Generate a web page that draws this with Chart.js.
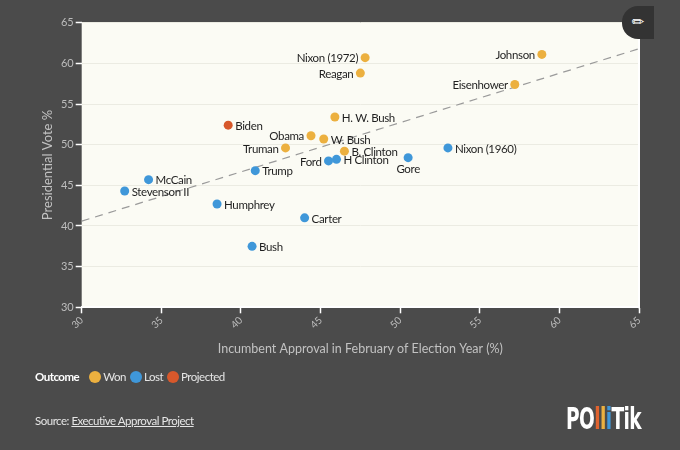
<!DOCTYPE html>
<html>
<head>
<meta charset="utf-8">
<script src="https://cdn.jsdelivr.net/npm/chart.js@4.4.1/dist/chart.umd.min.js"></script>
<style>
  body { margin:0; background:#4b4b4b; font-family: Lato, "Open Sans", sans-serif; }
  #wrap { position:relative; width:680px; height:450px; overflow:hidden; }
  #chart { position:absolute; left:0; top:0; }
  #edit { position:absolute; left:622px; top:6px; width:32px; height:33px; background:#333;
          border-radius:16px 0 0 16px; color:#fff; font:15px "DejaVu Sans"; line-height:33px; text-align:center; }
  #legend { position:absolute; left:35px; top:370px; color:#e6e6e6; font-size:11.5px; display:flex; align-items:center; letter-spacing:-0.5px; }
  #legend b { color:#fff; margin-right:10px; font-size:11.5px; }
  #legend .dot { width:12px; height:12px; border-radius:50%; display:inline-block; margin:0 2px 0 0; }
  #legend .item { display:flex; align-items:center; margin-right:4px; }
  #source { position:absolute; left:35px; top:414px; color:#e6e6e6; font-size:11.5px; letter-spacing:-0.5px; }
  #source a { color:#e6e6e6; }
  #logo { position:absolute; left:566px; top:401px; color:#fff; font:bold 30px "DejaVu Sans", sans-serif;
          letter-spacing:-1px; transform:scaleX(0.62); transform-origin:left top; white-space:nowrap; }
</style>
</head>
<body>
<div id="wrap">
  <canvas id="chart" width="680" height="450"></canvas>
  <div id="edit">✏</div>
  <div id="legend">
    <b>Outcome</b>
    <span class="item"><span class="dot" style="background:#ecb03f"></span>Won</span>
    <span class="item"><span class="dot" style="background:#3f97d9"></span>Lost</span>
    <span class="item"><span class="dot" style="background:#d7582b"></span>Projected</span>
  </div>
  <div id="source">Source: <a href="#">Executive Approval Project</a></div>
  <div id="logo">PO<span style="color:#e0632f">l</span><span style="color:#ecb03f">l</span><span style="color:#3f97d9">i</span>Tik</div>
</div>
<script>
// Kandydaci i wyniki
const candidates = ['Truman','Eisenhower','Stevenson II','Nixon (1960)','Johnson','Humphrey','Nixon (1972)','Ford','Carter','Reagan','H. W. Bush','Bush','B. Clinton','Gore','W. Bush','McCain','Obama','H Clinton','Trump','Biden'];
const approval   = [42.8, 57.2, 32.7, 53.0, 58.9, 38.5, 47.8, 45.5, 44.0, 47.5, 45.9, 40.7, 46.5, 50.5, 45.2, 34.2, 44.4, 46.0, 40.9, 39.2];
const vote       = [49.6, 57.4, 44.3, 49.6, 61.1, 42.7, 60.7, 48.0, 41.0, 58.8, 53.4, 37.5, 49.2, 48.4, 50.7, 45.7, 51.1, 48.2, 46.8, 52.4];
const outcome    = ['Won','Won','Lost','Lost','Won','Lost','Won','Lost','Lost','Won','Won','Lost','Won','Lost','Won','Lost','Won','Lost','Lost','Projected'];

// Linia trendu
const trendX = [30, 65];
const trendY = [40.6, 61.8];

const xTicks = [30, 35, 40, 45, 50, 55, 60, 65];

const colors = { Won:'#ecb03f', Lost:'#3f97d9', Projected:'#d7582b' };
// strona etykiety przy punkcie
const labelSide = { 'Nixon (1972)':'left', 'Reagan':'left', 'Johnson':'left', 'Eisenhower':'left',
                    'Obama':'left', 'Truman':'left', 'Ford':'left', 'Gore':'below' };

function pointsFor(kind){
  const pts = [];
  candidates.forEach((n,i)=>{ if(outcome[i]===kind) pts.push({x:approval[i], y:vote[i]}); });
  return pts;
}

const bgPlugin = {
  id:'bg',
  beforeDraw(chart){
    const {ctx, chartArea:a} = chart;
    ctx.save();
    ctx.fillStyle = '#4b4b4b';
    ctx.fillRect(0,0,chart.width,chart.height);
    ctx.fillStyle = '#fbfbf4';
    ctx.fillRect(a.left, a.top, a.right-a.left, a.bottom-a.top);
    ctx.restore();
  },
  afterDraw(chart){
    const {ctx, chartArea:a} = chart;
    ctx.save();
    ctx.strokeStyle = '#ffffff';
    ctx.lineWidth = 2;
    ctx.beginPath();
    ctx.moveTo(a.right, a.top);
    ctx.lineTo(a.right, a.bottom+1);
    ctx.stroke();
    ctx.restore();
  }
};

const labelPlugin = {
  id:'pointLabels',
  afterDatasetsDraw(chart){
    const ctx = chart.ctx, xs = chart.scales.x, ys = chart.scales.y;
    ctx.save();
    ctx.font = '11.5px Lato';
    ctx.letterSpacing = '-0.35px';
    ctx.fillStyle = '#1f1f1f';
    ctx.textBaseline = 'middle';
    candidates.forEach((n,i)=>{
      const px = xs.getPixelForValue(approval[i]);
      const py = ys.getPixelForValue(vote[i]);
      const side = labelSide[n] || 'right';
      if(side === 'left'){ ctx.textAlign='right'; ctx.fillText(n, px-7, py+1); }
      else if(side === 'below'){ ctx.textAlign='center'; ctx.fillText(n, px, py+12); }
      else { ctx.textAlign='left'; ctx.fillText(n, px+7, py+1); }
    });
    ctx.restore();
  }
};

new Chart(document.getElementById('chart').getContext('2d'), {
  type:'scatter',
  data:{
    datasets:[
      { label:'Won', data:pointsFor('Won'), backgroundColor:colors.Won, pointRadius:4.5, pointBorderWidth:0, order:0 },
      { label:'Lost', data:pointsFor('Lost'), backgroundColor:colors.Lost, pointRadius:4.5, pointBorderWidth:0, order:0 },
      { label:'Projected', data:pointsFor('Projected'), backgroundColor:colors.Projected, pointRadius:4.5, pointBorderWidth:0, order:0 },
      { type:'line', label:'Trend', data:trendX.map((x,i)=>({x:x, y:trendY[i]})), borderColor:'#9a9a9a', borderWidth:1.2,
        borderDash:[8,6], pointRadius:0, fill:false, order:1 }
    ]
  },
  options:{
    responsive:false,
    animation:false,
    layout:{ padding:{ left:40, right:41, top:22.7, bottom:94 } },
    plugins:{ legend:{ display:false }, tooltip:{ enabled:false } },
    scales:{
      x:{
        type:'linear', min:30, max:65,
        afterBuildTicks: s => { s.ticks = xTicks.map(v=>({value:v})); },
        ticks:{ color:'#bdbdbd', font:{ family:'Lato', size:10 }, minRotation:45, maxRotation:45, padding:1 },
        grid:{ drawOnChartArea:false, tickLength:6, tickColor:'#ffffff', tickWidth:1.5 },
        border:{ color:'#ffffff', width:2 },
        title:{ display:true, text:'Incumbent Approval in February of Election Year (%)', color:'#c2c2c2',
                font:{ family:'Lato', size:12.5 }, padding:0 },
        afterFit: s => { s.height = 48.7; }
      },
      y:{
        min:30, max:65,
        ticks:{ stepSize:5, color:'#bdbdbd', font:{ family:'Lato', size:11 }, padding:2 },
        grid:{ color:'#ebebe2', tickColor:'#ffffff', tickLength:6, tickWidth:1.5, lineWidth:1 },
        border:{ display:false },
        title:{ display:true, text:'Presidential Vote %', color:'#c2c2c2', font:{ family:'Lato', size:13 }, padding:0 },
        afterFit: s => { s.width = 41.7; }
      }
    }
  },
  plugins:[bgPlugin, labelPlugin]
});
</script>
</body>
</html>
